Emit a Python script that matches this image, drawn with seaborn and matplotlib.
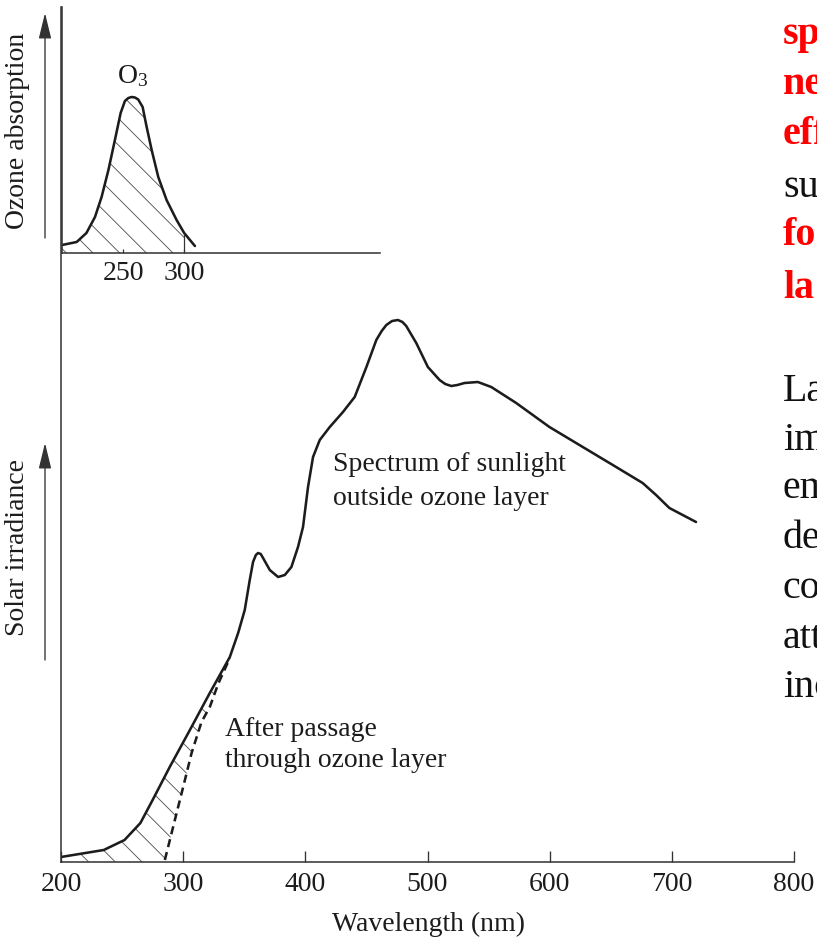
import numpy as np
import pandas as pd
import matplotlib
matplotlib.use("Agg")
import matplotlib.pyplot as plt
import seaborn as sns

# ---------------- data ----------------
# Solar spectrum outside the ozone layer (arbitrary units)
solar_nm = [200, 235, 252, 265, 275, 289, 305.5, 321.8, 338.2, 345, 350.4, 354.5,
            357.2, 359.5, 361.3, 363.5, 365.4, 370.9, 377.7, 383.2, 388.6, 394,
            398.1, 402.2, 406.3, 411.8, 420, 430.8, 440.4, 450, 458.1, 462.5,
            466.3, 471, 475.8, 479.5, 482.6, 490.8, 500.3, 509.9, 514.5, 519.5,
            524.5, 530.3, 541.2, 552.2, 572.6, 599.8, 627.1, 654.4, 676.1,
            687.1, 698, 719.8]
solar_irr = [0.05, 0.12, 0.22, 0.39, 0.62, 0.95, 1.32, 1.69, 2.05, 2.29, 2.52, 2.82,
             3.00, 3.07, 3.09, 3.08, 3.04, 2.92, 2.85, 2.87, 2.95, 3.15,
             3.35, 3.75, 4.05, 4.22, 4.35, 4.50, 4.65, 4.95, 5.22, 5.31,
             5.37, 5.41, 5.42, 5.40, 5.36, 5.19, 4.95, 4.82, 4.78, 4.76,
             4.77, 4.79, 4.80, 4.75, 4.59, 4.35, 4.15, 3.95, 3.79,
             3.67, 3.54, 3.40]

# Spectrum after passage through the ozone layer (short-wave edge)
after_nm = [285, 293.2, 300, 306.9, 315, 321.8, 328.6, 338.2]
after_irr = [0.02, 0.42, 0.75, 1.09, 1.40, 1.55, 1.78, 2.04]

# Ozone absorption (inset, arbitrary units)
oz_nm = [200, 212, 220, 227, 232.4, 238, 243.3, 248, 251.5, 254.3, 257, 259.7,
         262.4, 266, 269.3, 273.4, 278.8, 285.6, 293.8, 300, 308.8]
oz_abs = [0.08, 0.11, 0.20, 0.36, 0.56, 0.83, 1.13, 1.40, 1.52, 1.55, 1.56, 1.555,
          1.535, 1.46, 1.26, 1.03, 0.76, 0.53, 0.33, 0.20, 0.07]

main_ticks = [200, 300, 400, 500, 600, 700, 800]
inset_ticks = [250, 300]
hatch_limit_nm = 338.2   # where the two solar curves meet
inset_hatch_limit = 300

right_col_red_top = ["sp", "ne", "eff"]
right_col_black_mid = ["su"]
right_col_red_bot = ["fo", "la"]
right_col_black = ["La", "im", "em", "de", "co", "att", "inc"]

# ---------------- styling ----------------
sns.set_theme(style="white")
plt.rcParams["font.family"] = ["Liberation Serif", "DejaVu Serif"]
plt.rcParams["mathtext.fontset"] = "custom"
plt.rcParams["mathtext.rm"] = "Liberation Serif"
plt.rcParams["mathtext.it"] = "Liberation Serif:italic"
plt.rcParams["hatch.linewidth"] = 0.8
plt.rcParams["hatch.color"] = "#555555"

W, H, DPI = 817, 939, 80
INK = "#1c1c1c"
AX = "#333333"
FS = 25

fig = plt.figure(figsize=(W / DPI, H / DPI), dpi=DPI, facecolor="white")


def px_rect(x0, y0, x1, y1):
    return [x0 / W, 1 - y1 / H, (x1 - x0) / W, (y1 - y0) / H]


# ---------------- main axes ----------------
ax = fig.add_axes(px_rect(61, 7, 794, 862))
ax.set_facecolor("none")
ax.set_xlim(200, 800)
ax.set_ylim(0, 8.55)

sns.lineplot(x=solar_nm, y=solar_irr, ax=ax, color=INK, lw=2.3, sort=False,
             estimator=None)
sns.lineplot(x=after_nm, y=after_irr, ax=ax, color=INK, lw=2.3, sort=False,
             estimator=None, linestyle=(0, (3.2, 2.0)))

# hatched region between the two curves
sn = np.array(solar_nm)
si = np.array(solar_irr)
an = np.array(after_nm)
ai = np.array(after_irr)
m = sn <= hatch_limit_nm
poly_x = np.concatenate([sn[m], an[::-1], [an[0], sn[0]]])
poly_y = np.concatenate([si[m], ai[::-1], [0, 0]])
ax.fill(poly_x, poly_y, facecolor="none", edgecolor="#555555", hatch="\\",
        linewidth=0)

for s in ["top", "right"]:
    ax.spines[s].set_visible(False)
for s in ["left", "bottom"]:
    ax.spines[s].set_color(AX)
    ax.spines[s].set_linewidth(1.4)
ax.set_xticks(main_ticks)
ax.set_xticklabels([str(t) for t in main_ticks])
ax.set_yticks([])
ax.tick_params(axis="x", bottom=True, direction="in", length=10, width=1.2,
               color=AX, pad=9, labelsize=FS, labelcolor=INK)
ax.set_xlabel("Wavelength (nm)", fontsize=FS, color=INK, va="center")
ax.xaxis.set_label_coords(0.5007, -(924 - 862) / 855)
ax.set_ylabel("")

ax.text(422.4, 3.805, "Spectrum of sunlight\noutside ozone layer",
        ha="left", va="center", fontsize=FS, color=INK, linespacing=1.43)
ax.text(334.2, 1.17, "After passage\nthrough ozone layer",
        ha="left", va="center", fontsize=FS, color=INK, linespacing=1.3)

# ---------------- inset (ozone absorption) ----------------
axi = fig.add_axes(px_rect(62, 7, 380, 253))
axi.set_facecolor("none")
axi.set_xlim(200, 460.3)
axi.set_ylim(0, 2.46)

sns.lineplot(x=oz_nm, y=oz_abs, ax=axi, color=INK, lw=2.3, sort=False,
             estimator=None)
on = np.array(oz_nm)
oa = np.array(oz_abs)
mi = on <= inset_hatch_limit
axi.fill(np.concatenate([on[mi], [inset_hatch_limit, on[0]]]),
         np.concatenate([oa[mi], [0, 0]]),
         facecolor="none", edgecolor="#555555", hatch="\\", linewidth=0)
axi.vlines(inset_hatch_limit, 0, oa[list(oz_nm).index(inset_hatch_limit)],
           color=AX, lw=1.1)

for s in ["top", "right"]:
    axi.spines[s].set_visible(False)
for s in ["left", "bottom"]:
    axi.spines[s].set_color(AX)
    axi.spines[s].set_linewidth(1.4)
axi.set_xticks(inset_ticks)
axi.set_xticklabels([str(t) for t in inset_ticks])
axi.set_yticks([])
axi.tick_params(axis="x", bottom=True, direction="in", length=4, width=1.1,
                color=AX, pad=7, labelsize=FS, labelcolor=INK)
axi.set_xlabel("")
axi.set_ylabel("")
axi.text(245, 1.70, r"$\mathrm{O}_3$", ha="left", va="baseline",
         fontsize=FS, color=INK)

# ---------------- y-axis labels with arrows ----------------
fig.text(18 / W, 1 - 131 / H, "Ozone absorption", rotation=90, ha="center",
         va="center", fontsize=FS, color=INK)
fig.text(18 / W, 1 - 548 / H, "Solar irradiance", rotation=90, ha="center",
         va="center", fontsize=FS, color=INK)
arrow_kw = dict(arrowstyle="-|>,head_length=0.9,head_width=0.22", color=AX,
                lw=1.2, mutation_scale=22, shrinkA=0, shrinkB=0)
ax.annotate("", xy=(45, H - 13), xytext=(45, H - 238),
            xycoords="figure pixels", textcoords="figure pixels",
            arrowprops=arrow_kw)
ax.annotate("", xy=(45, H - 443), xytext=(45, H - 660),
            xycoords="figure pixels", textcoords="figure pixels",
            arrowprops=arrow_kw)

# ---------------- cropped slide text on the right edge ----------------
red_lines = right_col_red_top + right_col_black_mid + right_col_red_bot
red_base = [44, 94, 144, 197, 245, 298]
for s, yb in zip(red_lines, red_base):
    black = s in right_col_black_mid
    fig.text(783 / W, 1 - yb / H, s, ha="left", va="baseline", fontsize=36,
             color="#111111" if black else "#ff0000",
             fontweight="normal" if black else "bold")
black_base = [401, 450, 498, 548, 598, 648, 697]
for s, yb in zip(right_col_black, black_base):
    fig.text(783 / W, 1 - yb / H, s, ha="left", va="baseline", fontsize=36,
             color="#111111")

fig.savefig("out.png", dpi=DPI, facecolor="white")
